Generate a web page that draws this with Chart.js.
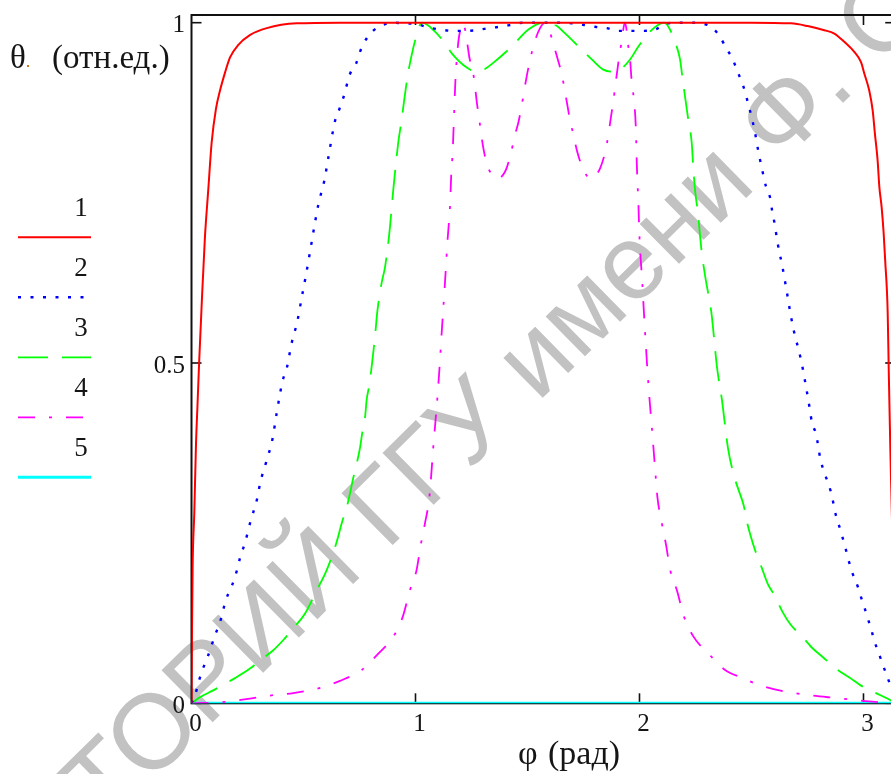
<!DOCTYPE html>
<html><head><meta charset="utf-8">
<script src="https://cdn.jsdelivr.net/npm/chart.js@4.4.1/dist/chart.umd.min.js"></script>
<style>
html,body{margin:0;padding:0;background:#fff;overflow:hidden;width:891px;height:774px;}
#wrap{position:absolute;left:0;top:0;width:905px;height:774px;}
</style></head><body>
<div id="wrap"><canvas id="c" width="905" height="774"></canvas></div>
<script>
// ---- data ----
const seriesLabels = ['1','2','3','4','5'];
const xTicks = [0, 1, 2, 3];
const yTicks = [0, 0.5, 1];
const xTitleSym = 'φ';
const xTitleUnit = '(рад)';
const yTitleSym = 'θ';
const yTitleUnit = '(отн.ед.)';
const watermark = 'РЕПОЗИТОРИЙ ГГУ имени Ф. Скорины';

const phi1 = [0,0.002,0.005,0.0125,0.02,0.027,0.034,0.046,0.06,0.075,0.09,0.109,0.127,0.15,0.172,0.208,0.262,0.336,0.47,0.663,0.9,1.2,1.57,1.9,2.2,2.498,2.676,2.751,2.825,2.87,2.914,2.959,2.989,3.004,3.026,3.041,3.051,3.063,3.071,3.081,3.09,3.097,3.108,3.113,3.12,3.128,3.135,3.1416];
const theta1 = [0,0.1,0.2,0.28,0.38,0.44,0.5,0.59,0.685,0.755,0.824,0.873,0.9,0.927,0.949,0.967,0.982,0.992,0.999,1,1,1,1,1,1,1,0.999,0.995,0.989,0.984,0.972,0.957,0.942,0.925,0.9,0.871,0.837,0.798,0.758,0.729,0.691,0.65,0.575,0.485,0.372,0.26,0.14,0];

const phi2 = [0,0.016,0.034,0.05,0.072,0.105,0.127,0.153,0.194,0.217,0.239,0.264,0.294,0.306,0.333,0.362,0.38,0.407,0.425,0.447,0.473,0.492,0.512,0.53,0.549,0.567,0.593,0.611,0.641,0.66,0.678,0.708,0.735,0.752,0.771,0.807,0.849,0.901,0.953,1.005,1.056,1.11,1.167,1.221,1.273,1.324,1.378,1.43,1.481,1.57,1.646,1.698,1.748,1.801,1.853,1.904,1.965,2.016,2.07,2.122,2.18,2.233,2.278,2.327,2.36,2.386,2.416,2.434,2.453,2.471,2.485,2.5,2.515,2.53,2.547,2.565,2.583,2.592,2.602,2.618,2.639,2.658,2.676,2.69,2.713,2.724,2.743,2.761,2.77,2.788,2.807,2.818,2.837,2.855,2.877,2.892,2.907,2.922,2.937,2.952,2.974,2.989,3.004,3.019,3.036,3.05,3.068,3.086,3.105,3.12,3.1416];
const theta2 = [0,0.012,0.034,0.05,0.068,0.1,0.119,0.151,0.185,0.214,0.236,0.268,0.302,0.323,0.354,0.389,0.426,0.474,0.492,0.529,0.562,0.596,0.631,0.665,0.702,0.734,0.768,0.802,0.856,0.873,0.89,0.925,0.94,0.957,0.971,0.987,0.996,1.0,0.999,0.998,0.993,0.99,0.988,0.988,0.989,0.992,0.994,0.997,1.0,1.0,1.0,0.999,0.997,0.994,0.992,0.988,0.988,0.988,0.99,0.999,1.0,1.0,0.999,0.992,0.979,0.963,0.947,0.931,0.916,0.899,0.881,0.862,0.84,0.812,0.785,0.759,0.743,0.724,0.707,0.674,0.64,0.604,0.569,0.546,0.516,0.5,0.466,0.431,0.412,0.396,0.36,0.346,0.328,0.31,0.276,0.26,0.243,0.225,0.206,0.19,0.172,0.156,0.141,0.125,0.107,0.09,0.074,0.057,0.04,0.026,0];

const phi3 = [0,0.038,0.097,0.135,0.194,0.261,0.306,0.365,0.41,0.454,0.507,0.559,0.604,0.648,0.671,0.693,0.708,0.722,0.738,0.752,0.764,0.775,0.782,0.794,0.804,0.819,0.829,0.849,0.864,0.883,0.901,0.923,0.938,0.949,0.965,0.99,1.008,1.02,1.03,1.087,1.124,1.162,1.229,1.273,1.31,1.347,1.407,1.452,1.504,1.571,1.623,1.675,1.734,1.787,1.838,1.877,1.913,1.958,1.995,2.047,2.11,2.136,2.166,2.181,2.193,2.203,2.218,2.233,2.24,2.248,2.261,2.277,2.292,2.308,2.321,2.346,2.368,2.395,2.425,2.445,2.465,2.48,2.498,2.516,2.546,2.572,2.602,2.639,2.676,2.721,2.769,2.818,2.885,2.937,2.989,3.056,3.123,3.1416];
const theta3 = [0,0.009,0.019,0.026,0.037,0.051,0.063,0.078,0.093,0.11,0.132,0.166,0.196,0.237,0.265,0.288,0.309,0.331,0.353,0.375,0.401,0.421,0.446,0.468,0.494,0.538,0.574,0.618,0.641,0.69,0.755,0.824,0.857,0.885,0.922,0.963,0.985,0.997,1.0,0.987,0.973,0.955,0.934,0.928,0.932,0.941,0.958,0.973,0.99,1.0,0.997,0.982,0.963,0.946,0.931,0.928,0.931,0.946,0.965,0.987,1.0,0.99,0.965,0.946,0.916,0.892,0.857,0.824,0.788,0.754,0.72,0.665,0.63,0.6,0.574,0.494,0.446,0.375,0.331,0.311,0.291,0.266,0.244,0.225,0.199,0.176,0.159,0.134,0.115,0.1,0.082,0.068,0.049,0.038,0.026,0.015,0.004,0];

const phi4 = [0,0.15,0.261,0.365,0.454,0.566,0.663,0.76,0.834,0.901,0.943,0.975,1.005,1.023,1.042,1.062,1.072,1.079,1.087,1.097,1.106,1.118,1.132,1.143,1.154,1.16,1.166,1.17,1.174,1.178,1.183,1.191,1.199,1.208,1.218,1.231,1.24,1.258,1.266,1.275,1.285,1.296,1.305,1.321,1.345,1.37,1.39,1.404,1.425,1.444,1.459,1.474,1.493,1.512,1.533,1.556,1.574,1.592,1.61,1.63,1.653,1.672,1.69,1.708,1.72,1.742,1.765,1.783,1.8,1.824,1.846,1.861,1.872,1.882,1.891,1.905,1.92,1.935,1.944,1.95,1.958,1.965,1.975,1.984,1.987,1.99,1.995,2.0,2.012,2.024,2.036,2.045,2.055,2.07,2.08,2.1,2.119,2.137,2.167,2.199,2.241,2.308,2.382,2.461,2.542,2.654,2.757,2.868,2.958,3.05,3.1416];
const theta4 = [0,0.002,0.007,0.012,0.015,0.022,0.033,0.049,0.073,0.098,0.127,0.166,0.196,0.232,0.264,0.303,0.343,0.375,0.406,0.446,0.487,0.55,0.62,0.68,0.73,0.78,0.81,0.845,0.88,0.914,0.941,0.971,0.988,0.999,0.995,0.97,0.95,0.925,0.905,0.88,0.857,0.83,0.812,0.79,0.775,0.771,0.776,0.784,0.807,0.835,0.853,0.878,0.915,0.946,0.973,0.992,0.999,0.995,0.975,0.952,0.924,0.89,0.857,0.831,0.813,0.79,0.775,0.771,0.774,0.786,0.809,0.835,0.86,0.882,0.905,0.94,0.972,1.0,0.985,0.965,0.946,0.914,0.887,0.843,0.803,0.774,0.735,0.685,0.62,0.55,0.487,0.446,0.406,0.343,0.303,0.264,0.232,0.196,0.166,0.127,0.098,0.073,0.049,0.037,0.026,0.017,0.012,0.008,0.005,0.002,0];

const phi5 = [0, 1, 2, 3, 3.1416];
const theta5 = [0, 0, 0, 0, 0];

// ---- chart ----
const pts = (xs, ys) => xs.map((x, i) => ({x, y: ys[i]}));
const SERIF = "'Liberation Serif', 'Times New Roman', serif";
const TXT = '#151515';

const datasets = [
  {label: seriesLabels[0], data: pts(phi1, theta1), borderColor: '#ff0000', borderWidth: 2, borderDash: []},
  {label: seriesLabels[1], data: pts(phi2, theta2), borderColor: '#0000ff', borderWidth: 2.4, borderDash: [3, 9.5]},
  {label: seriesLabels[2], data: pts(phi3, theta3), borderColor: '#00ff00', borderWidth: 1.8, borderDash: [30, 14]},
  {label: seriesLabels[3], data: pts(phi4, theta4), borderColor: '#ff00ff', borderWidth: 1.8, borderDash: [17, 14, 3, 14]},
  {label: seriesLabels[4], data: pts(phi5, theta5), borderColor: '#00ffff', borderWidth: 3, borderDash: []}
].map(d => Object.assign(d, {pointRadius: 0, fill: false, cubicInterpolationMode: 'monotone', borderCapStyle: 'butt'}));

const decor = {
  id: 'decor',
  beforeDraw(chart) {
    const ctx = chart.ctx;
    ctx.save();
    ctx.fillStyle = '#fff';
    ctx.fillRect(0, 0, chart.width, chart.height);
    // watermark
    ctx.font = "106px 'Liberation Sans', Arial, sans-serif";
    ctx.fillStyle = '#c2c2c2';
    ctx.textBaseline = 'middle';
    ctx.textAlign = 'left';
    const ang = -44.5 * Math.PI / 180;
    const pre = ctx.measureText('РЕПОЗИТ').width + ctx.measureText('О').width / 2;
    const cx = 160, cy = 733;
    ctx.translate(cx - pre * Math.cos(ang), cy - pre * Math.sin(ang));
    ctx.rotate(ang);
    ctx.fillText(watermark, 0, 0);
    ctx.restore();
  },
  beforeDatasetsDraw(chart) {
    const {ctx, chartArea: a, scales: {x, y}} = chart;
    ctx.save();
    ctx.strokeStyle = '#111';
    ctx.lineWidth = 2;
    ctx.strokeRect(a.left, a.top, a.right - a.left, a.bottom - a.top);
    ctx.lineWidth = 1.6;
    const seg = (x1, y1, x2, y2) => { ctx.beginPath(); ctx.moveTo(x1, y1); ctx.lineTo(x2, y2); ctx.stroke(); };
    xTicks.forEach(v => {
      if (v === 0) return;
      const px = x.getPixelForValue(v);
      seg(px, a.bottom, px, a.bottom - 10);
      seg(px, a.top, px, a.top + 10);
    });
    yTicks.forEach(v => {
      const py = y.getPixelForValue(v);
      seg(a.left, py, a.left + 10, py);
      seg(a.right, py, a.right - 10, py);
    });
    ctx.restore();
  },
  afterDraw(chart) {
    const ctx = chart.ctx;
    ctx.save();
    // y title
    ctx.textBaseline = 'alphabetic';
    ctx.textAlign = 'left';
    ctx.fillStyle = TXT;
    ctx.font = "33px " + SERIF;
    ctx.fillText(yTitleSym, 10, 68);
    ctx.fillStyle = '#c87a1e';
    ctx.fillRect(27, 65, 2, 2);
    ctx.fillStyle = TXT;
    ctx.fillText(yTitleUnit, 52, 68);
    // x title
    ctx.font = "34px " + SERIF;
    ctx.fillText(xTitleSym, 518, 764);
    ctx.fillText(xTitleUnit, 548, 764);
    // legend
    chart.data.datasets.forEach((ds, i) => {
      const yl = 237.3 + i * 60;
      ctx.font = "27px " + SERIF;
      ctx.textAlign = 'center';
      ctx.textBaseline = 'middle';
      ctx.fillStyle = TXT;
      ctx.fillText(ds.label, 81, yl - 28.5);
      ctx.strokeStyle = ds.borderColor;
      ctx.lineWidth = ds.borderWidth;
      ctx.setLineDash(ds.borderDash || []);
      ctx.beginPath();
      ctx.moveTo(18, yl);
      ctx.lineTo(91, yl);
      ctx.stroke();
      ctx.setLineDash([]);
    });
    ctx.restore();
  }
};

new Chart(document.getElementById('c'), {
  type: 'line',
  data: {datasets},
  plugins: [decor],
  options: {
    responsive: false,
    animation: false,
    devicePixelRatio: 1,
    layout: {padding: {left: 0, right: 9.8, top: 15, bottom: 0}},
    plugins: {legend: {display: false}, tooltip: {enabled: false}, title: {display: false}},
    scales: {
      x: {
        type: 'linear', min: 0, max: Math.PI,
        afterBuildTicks: s => { s.ticks = xTicks.map(v => ({value: v})); },
        afterFit: s => { s.height = 70.7; s.paddingLeft = 0; s.paddingRight = 0; },
        grid: {display: false, drawTicks: false},
        border: {display: false},
        ticks: {font: {family: SERIF, size: 25}, color: TXT, padding: 6, labelOffset: 4, maxRotation: 0, autoSkip: false, callback: v => String(v)}
      },
      y: {
        type: 'linear', min: 0, max: 1.0113,
        afterBuildTicks: s => { s.ticks = yTicks.map(v => ({value: v})); },
        afterFit: s => { s.width = 191.5; s.paddingTop = 0; s.paddingBottom = 0; },
        grid: {display: false, drawTicks: false},
        border: {display: false},
        ticks: {font: {family: SERIF, size: 25}, color: TXT, padding: 6.5, labelOffset: 3, autoSkip: false, callback: v => String(v)}
      }
    }
  }
});
</script>
</body></html>
